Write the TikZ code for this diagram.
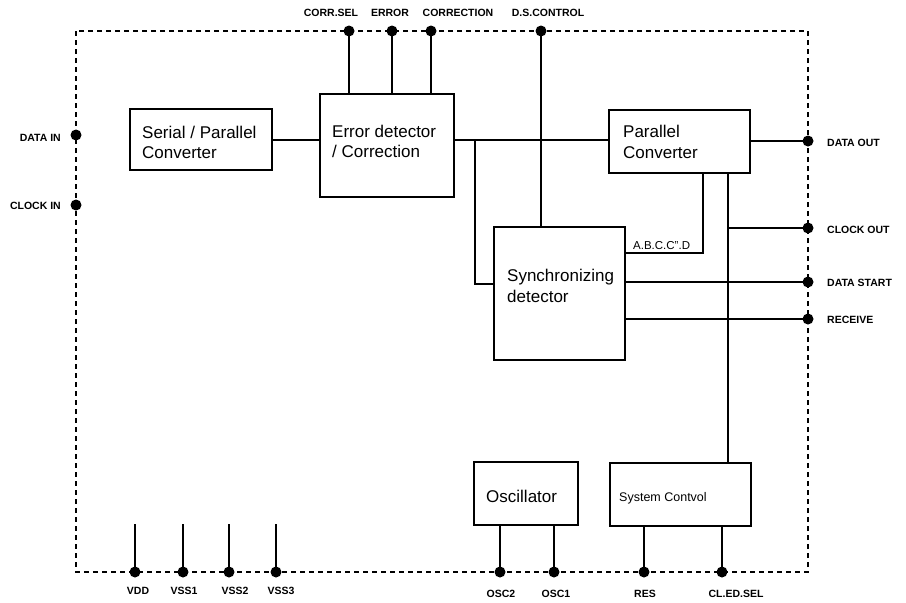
\documentclass[tikz,border=0pt]{standalone}
\usepackage{fontspec}
\setmainfont{Liberation Sans}
\begin{document}
\begin{tikzpicture}[x=1pt,y=-1pt,
  box/.style={draw,line width=1.6pt,inner sep=0pt},
  wire/.style={line width=1.6pt},
  stub/.style={line width=2.2pt},
  frameline/.style={line width=2pt,dash pattern=on 5pt off 4pt},
  pindot/.style={circle,fill,inner sep=0pt,minimum size=11pt},
  pinlab/.style={font=\fontsize{10.5}{12}\selectfont\bfseries,inner sep=0pt},
  boxtxt/.style={font=\fontsize{17}{21}\selectfont,inner sep=0pt,anchor=base west},
  smalltxt/.style={font=\fontsize{12.5}{14}\selectfont,inner sep=0pt,anchor=base west}
]
\useasboundingbox (0,0) rectangle (906,603);

% frame
\draw[frameline] (76,31) rectangle (808,572);

% boxes
\node[box,minimum width=142pt,minimum height=61pt]  (ser)  at (201,139.5) {};
\node[box,minimum width=134pt,minimum height=103pt] (err)  at (387,145.5) {};
\node[box,minimum width=141pt,minimum height=63pt]  (par)  at (679.5,141.5) {};
\node[box,minimum width=131pt,minimum height=133pt] (sync) at (559.5,293.5) {};
\node[box,minimum width=104pt,minimum height=63pt]  (osc)  at (526,493.5) {};
\node[box,minimum width=141pt,minimum height=63pt]  (sys)  at (680.5,494.5) {};

% box texts
\node[boxtxt] (tser1) at (142,138) {Serial / Parallel};
\node[boxtxt] (tser2) at (142,158) {Converter};
\node[boxtxt] (terr1) at (332,137) {Error detector};
\node[boxtxt] (terr2) at (332,157) {/ Correction};
\node[boxtxt] (tpar1) at (623,137) {Parallel};
\node[boxtxt] (tpar2) at (623,158) {Converter};
\node[boxtxt] (tsyn1) at (507,281) {Synchronizing};
\node[boxtxt] (tsyn2) at (507,302) {detector};
\node[boxtxt] (tosc)  at (486,502) {Oscillator};
\node[smalltxt] (tsys) at (619,501) {System Contvol};
\node[smalltxt,font=\fontsize{11.5}{13}\selectfont] (tabc) at (633,249) {A.B.C.C".D};

% pins
\node[pindot] (pCorr)  at (349,31) {};
\node[pindot] (pErr)   at (392,31) {};
\node[pindot] (pCorrn) at (431,31) {};
\node[pindot] (pDS)    at (541,31) {};
\node[pindot] (pDin)   at (76,135) {};
\node[pindot] (pCin)   at (76,205) {};
\node[pindot] (pDout)  at (808,141) {};
\node[pindot] (pCout)  at (808,228) {};
\node[pindot] (pDst)   at (808,282) {};
\node[pindot] (pRcv)   at (808,319) {};
\node[pindot] (pVdd)   at (135,572) {};
\node[pindot] (pVss1)  at (183,572) {};
\node[pindot] (pVss2)  at (229,572) {};
\node[pindot] (pVss3)  at (276,572) {};
\node[pindot] (pOsc2)  at (500,572) {};
\node[pindot] (pOsc1)  at (554,572) {};
\node[pindot] (pRes)   at (644,572) {};
\node[pindot] (pCled)  at (722,572) {};

% junction coordinates
\coordinate (jA) at (475,140);
\coordinate (jP1) at (703,173);
\coordinate (jP2) at (728,173);
\coordinate (jB) at (728,228);
\coordinate (jC) at (625,253);

% wires
\draw[wire] (ser.east |- jA) -- (err.west |- jA);
\draw[wire] (err.east |- jA) -- (par.west |- jA);
\draw[wire] (jA) |- (sync.west |- 0,284);
\draw[wire] (pCorr.center) -- (pCorr |- err.north);
\draw[wire] (pErr.center) -- (pErr |- err.north);
\draw[wire] (pCorrn.center) -- (pCorrn |- err.north);
\draw[wire] (pDS.center) -- (pDS |- sync.north);
\draw[wire] (jP1) |- (jC);
\draw[wire] (jP2) -- (jP2 |- sys.north);
\draw[wire] (jB) -- (pCout.center);
\draw[wire] (par.east |- pDout) -- (pDout.center);
\draw[wire] (sync.east |- pDst) -- (pDst.center);
\draw[wire] (sync.east |- pRcv) -- (pRcv.center);
\draw[wire] (pOsc2 |- osc.south) -- (pOsc2.center);
\draw[wire] (pOsc1 |- osc.south) -- (pOsc1.center);
\draw[wire] (pRes |- sys.south) -- (pRes.center);
\draw[wire] (pCled |- sys.south) -- (pCled.center);
\draw[stub] (pVdd.center) -- ++(0,-48);
\draw[stub] (pVss1.center) -- ++(0,-48);
\draw[stub] (pVss2.center) -- ++(0,-48);
\draw[stub] (pVss3.center) -- ++(0,-48);

% pin labels
\node[pinlab] (lCorr)  at (331,13) {CORR.SEL};
\node[pinlab] (lErr)   at (390,13) {ERROR};
\node[pinlab] (lCorrn) at (458,13) {CORRECTION};
\node[pinlab] (lDS)    at (548,13) {D.S.CONTROL};
\node[pinlab,anchor=east] (lDin) at (61,138) {DATA IN};
\node[pinlab,anchor=east] (lCin) at (61,206) {CLOCK IN};
\node[pinlab,anchor=west] (lDout) at (827,143) {DATA OUT};
\node[pinlab,anchor=west] (lCout) at (827,230) {CLOCK OUT};
\node[pinlab,anchor=west] (lDst)  at (827,283) {DATA START};
\node[pinlab,anchor=west] (lRcv)  at (827,320) {RECEIVE};
\node[pinlab] (lVdd)  at (138,591) {VDD};
\node[pinlab] (lVss1) at (184,591) {VSS1};
\node[pinlab] (lVss2) at (235,591) {VSS2};
\node[pinlab] (lVss3) at (281,591) {VSS3};
\node[pinlab] (lOsc2) at (501,594) {OSC2};
\node[pinlab] (lOsc1) at (556,594) {OSC1};
\node[pinlab] (lRes)  at (645,594) {RES};
\node[pinlab] (lCled) at (736,594) {CL.ED.SEL};
\end{tikzpicture}
\end{document}
